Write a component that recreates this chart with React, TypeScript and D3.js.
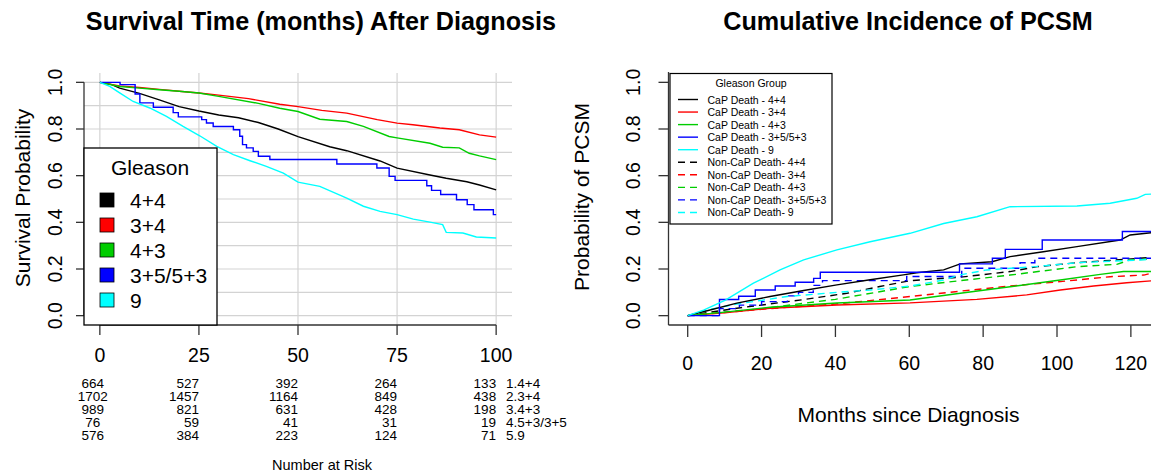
import React from "react";
import * as d3 from "d3";

const FONT = "'Liberation Sans', Arial, Helvetica, sans-serif";

// survival curves, [month, survival probability]
const surv44: [number, number][] = [[0, 1], [3, 0.99], [5, 0.975], [10, 0.953], [15, 0.925], [20, 0.896], [25, 0.877], [30, 0.86], [35, 0.848], [40, 0.828], [45, 0.8], [50, 0.767], [58, 0.724], [62.3, 0.707], [70.7, 0.663], [75, 0.632], [83.3, 0.603], [87.4, 0.589], [92.6, 0.574], [95.8, 0.56], [100, 0.539]];
const surv34: [number, number][] = [[0, 1], [5, 0.985], [10, 0.978], [15, 0.97], [20, 0.962], [25, 0.954], [30, 0.945], [37.5, 0.93], [45.4, 0.906], [50, 0.896], [56, 0.88], [62.3, 0.868], [70, 0.84], [75, 0.825], [79, 0.818], [85.8, 0.804], [90.7, 0.797], [95.8, 0.775], [100, 0.765]];
const surv43: [number, number][] = [[0, 1], [5, 0.982], [10, 0.975], [15, 0.968], [20, 0.962], [25, 0.954], [30, 0.94], [40, 0.91], [45.4, 0.889], [50, 0.875], [55.5, 0.842], [62.3, 0.832], [66.5, 0.811], [73, 0.768], [75, 0.762], [83.3, 0.739], [86.5, 0.722], [90.7, 0.719], [93.2, 0.696], [95.8, 0.685], [100, 0.669]];
const surv358: [number, number][] = [[0, 1], [5.1, 0.99], [8.9, 0.95], [10.1, 0.912], [13.5, 0.893], [18.5, 0.87], [19.8, 0.852], [25.7, 0.84], [26.9, 0.826], [28.6, 0.811], [33.7, 0.797], [35.3, 0.769], [36, 0.733], [37, 0.719], [38.7, 0.704], [40, 0.683], [42.9, 0.669], [59.8, 0.65], [69.9, 0.633], [73, 0.597], [74.5, 0.58], [82.5, 0.557], [83.7, 0.537], [86, 0.519], [90, 0.497], [92.7, 0.476], [94.4, 0.454], [99.3, 0.433], [100, 0.433]];
const surv9: [number, number][] = [[0, 1], [2.5, 0.983], [5.1, 0.954], [8.4, 0.918], [12.6, 0.89], [16.8, 0.854], [21, 0.811], [25.2, 0.771], [29.5, 0.726], [33.7, 0.69], [37.9, 0.664], [42, 0.64], [46.3, 0.611], [50, 0.572], [55.5, 0.554], [62.3, 0.504], [66.5, 0.469], [70.7, 0.447], [75, 0.433], [79.1, 0.414], [83.3, 0.401], [86.5, 0.39], [87.4, 0.357], [91.6, 0.354], [95, 0.337], [100, 0.333]];

const gleason = ["4+4", "3+4", "4+3", "3+5/5+3", "9"];
const colors = ["#000000", "#ff0000", "#00cd00", "#0000ff", "#00ffff"];
const survTicksX = [0, 25, 50, 75, 100];
const probTicks = [0, 0.2, 0.4, 0.6, 0.8, 1.0];
const gridY = [0, 0.1, 0.2, 0.3, 0.4, 0.5, 0.6, 0.7, 0.8, 0.9, 1.0];

// number at risk table
const riskAt44 = [664, 527, 392, 264, 133];
const riskAt34 = [1702, 1457, 1164, 849, 438];
const riskAt43 = [989, 821, 631, 428, 198];
const riskAt358 = [76, 59, 41, 31, 19];
const riskAt9 = [576, 384, 223, 124, 71];
const riskRowLabels = ["1.4+4", "2.3+4", "3.4+3", "4.5+3/3+5", "5.9"];

// cumulative incidence, [month, probability]
const cap44: [number, number][] = [[0, 0], [5, 0.02], [13.3, 0.054], [22.3, 0.082], [31.4, 0.108], [40.4, 0.132], [49.4, 0.154], [58.4, 0.175], [62, 0.184], [69.3, 0.196], [73.8, 0.222], [82.4, 0.231], [87.3, 0.253], [96.3, 0.274], [105.4, 0.296], [117.1, 0.324], [119.8, 0.346], [126, 0.356]];
const cap34: [number, number][] = [[0, 0], [10, 0.012], [22.3, 0.032], [40.4, 0.046], [60.2, 0.055], [78.3, 0.07], [91.8, 0.089], [100.9, 0.11], [109.9, 0.127], [118.9, 0.141], [126, 0.15]];
const cap43: [number, number][] = [[0, 0], [10, 0.015], [22.3, 0.036], [40.4, 0.054], [60.2, 0.067], [73.8, 0.096], [87.3, 0.124], [100.9, 0.153], [111.7, 0.177], [118, 0.189], [126, 0.189]];
const cap358: [number, number][] = [[0, 0], [8.6, 0.069], [13.8, 0.083], [18.3, 0.11], [23.7, 0.127], [29.1, 0.143], [34.1, 0.16], [35.9, 0.186], [73.6, 0.222], [82.5, 0.246], [86, 0.284], [96, 0.324], [117.7, 0.361], [126, 0.361]];
const cap9: [number, number][] = [[0, 0], [4.3, 0.024], [10.2, 0.067], [17.8, 0.139], [25, 0.196], [31.4, 0.239], [40.4, 0.282], [49.4, 0.317], [60.2, 0.353], [69.3, 0.395], [78.3, 0.424], [87.3, 0.467], [105.4, 0.47], [114.4, 0.482], [121.6, 0.503], [123.9, 0.52], [126, 0.521]];
const non44: [number, number][] = [[0, 0], [13.3, 0.032], [31.4, 0.069], [43.1, 0.096], [52, 0.125], [60.2, 0.15], [73.8, 0.165], [87.3, 0.189], [94.6, 0.21], [105.4, 0.227], [118.9, 0.242], [126, 0.25]];
const non34: [number, number][] = [[0, 0], [22, 0.03], [40, 0.05], [60.2, 0.082], [73.8, 0.105], [87.3, 0.127], [100.9, 0.146], [114.4, 0.167], [123.5, 0.174], [126, 0.184]];
const non43: [number, number][] = [[0, 0], [20, 0.03], [40, 0.07], [60.2, 0.125], [73.8, 0.15], [87.3, 0.174], [96.3, 0.192], [105.4, 0.21], [116.2, 0.22], [119.8, 0.239], [126, 0.243]];
const non358: [number, number][] = [[0, 0], [8.6, 0.03], [14, 0.045], [20, 0.06], [27, 0.085], [30, 0.1], [34, 0.13], [36.5, 0.15], [59.3, 0.168], [74.2, 0.203], [90, 0.227], [94, 0.246], [126, 0.246]];
const non9: [number, number][] = [[0, 0], [4, 0.02], [13.3, 0.05], [26.9, 0.082], [40.4, 0.1], [49.4, 0.11], [60.2, 0.127], [69.3, 0.153], [73.8, 0.175], [81, 0.196], [94, 0.21], [105.4, 0.227], [121.6, 0.238], [126, 0.243]];

const cifTicksX = [0, 20, 40, 60, 80, 100, 120];
const cifLegend = ["CaP Death - 4+4", "CaP Death - 3+4", "CaP Death - 4+3", "CaP Death - 3+5/5+3", "CaP Death - 9",
  "Non-CaP Death- 4+4", "Non-CaP Death- 3+4", "Non-CaP Death- 4+3", "Non-CaP Death- 3+5/5+3", "Non-CaP Death- 9"];

export default function App() {
  const survSeries = [surv44, surv34, surv43, surv358, surv9];
  const riskRows = [riskAt44, riskAt34, riskAt43, riskAt358, riskAt9];
  const capSeries = [cap44, cap34, cap43, cap358, cap9];
  const nonSeries = [non44, non34, non43, non358, non9];

  // left panel scales (R style 4% padding)
  const xL = d3.scaleLinear().domain([-4, 104]).range([84, 512]);
  const yL = d3.scaleLinear().domain([-0.04, 1.04]).range([325, 73]);
  // right panel
  const xR = d3.scaleLinear().domain([-5.2, 135.2]).range([668.5, 1187]);
  const yR = d3.scaleLinear().domain([-0.04, 1.04]).range([325, 73]);

  const lineL = (i: number) =>
    d3.line<[number, number]>().x(d => xL(d[0])).y(d => yL(d[1]))
      .curve(i === 3 ? d3.curveStepAfter : d3.curveLinear);
  const lineR = (i: number) =>
    d3.line<[number, number]>().x(d => xR(d[0])).y(d => yR(d[1]))
      .curve(i === 3 ? d3.curveStepAfter : d3.curveLinear);

  const axisCol = "#333";
  const dash = "7,5";

  return (
    <svg width={1151} height={475} style={{ position: "absolute", left: 0, top: 0, background: "#fff" }} fontFamily={FONT}>
      <defs>
        <clipPath id="clipR">
          <rect x={669} y={73} width={482} height={252} />
        </clipPath>
      </defs>

      {/* ---------------- left: survival ---------------- */}
      <text x={321} y={21} textAnchor="middle" dominantBaseline="central" fontSize={25.2} fontWeight="bold">
        Survival Time (months) After Diagnosis
      </text>

      {gridY.map(v => (
        <line key={"gy" + v} x1={84} x2={512} y1={yL(v)} y2={yL(v)} stroke="#d3d3d3" strokeWidth={1.2} />
      ))}
      {survTicksX.map(t => (
        <line key={"gx" + t} x1={xL(t)} x2={xL(t)} y1={73} y2={325} stroke="#d3d3d3" strokeWidth={1.2} />
      ))}

      {survSeries.map((s, i) => (
        <path key={"s" + i} d={lineL(i)(s) || ""} fill="none" stroke={colors[i]} strokeWidth={1.4} />
      ))}

      {/* y axis */}
      <line x1={84} x2={84} y1={yL(0)} y2={yL(1)} stroke={axisCol} strokeWidth={1.3} />
      {probTicks.map(t => (
        <g key={"ly" + t}>
          <line x1={76} x2={84} y1={yL(t)} y2={yL(t)} stroke={axisCol} strokeWidth={1.3} />
          <text transform={`translate(54.5,${yL(t)}) rotate(-90)`} textAnchor="middle" dominantBaseline="central" fontSize={19.5}>
            {t.toFixed(1)}
          </text>
        </g>
      ))}
      <text transform="translate(22.5,198) rotate(-90)" textAnchor="middle" dominantBaseline="central" fontSize={21}>
        Survival Probability
      </text>

      {/* x axis */}
      <line x1={xL(0)} x2={xL(100)} y1={325} y2={325} stroke={axisCol} strokeWidth={1.3} />
      {survTicksX.map(t => (
        <g key={"lx" + t}>
          <line x1={xL(t)} x2={xL(t)} y1={325} y2={335} stroke={axisCol} strokeWidth={1.3} />
          <text x={xL(t)} y={355} textAnchor="middle" dominantBaseline="central" fontSize={19.5}>{t}</text>
        </g>
      ))}

      {/* legend */}
      <rect x={84} y={148} width={133} height={177} fill="#fff" stroke="#000" strokeWidth={1.3} />
      <text x={150} y={167} textAnchor="middle" dominantBaseline="central" fontSize={21}>Gleason</text>
      {gleason.map((g, i) => (
        <g key={"lg" + i}>
          <rect x={100} y={193 + i * 25} width={14} height={14} fill={colors[i]} stroke="#000" strokeWidth={0.8} />
          <text x={130} y={200 + i * 25} dominantBaseline="central" fontSize={21}>{g}</text>
        </g>
      ))}

      {/* number at risk */}
      {riskRows.map((row, r) => (
        <g key={"rr" + r}>
          {row.map((n, c) => (
            <text key={c} x={c === 0 ? xL(survTicksX[c]) - 7 : xL(survTicksX[c])} y={383 + r * 13}
              textAnchor={c === 0 ? "middle" : "end"} dominantBaseline="central" fontSize={13.5}>{n}</text>
          ))}
          <text x={506} y={383 + r * 13} dominantBaseline="central" fontSize={13.5}>{riskRowLabels[r]}</text>
        </g>
      ))}
      <text x={322} y={465} textAnchor="middle" dominantBaseline="central" fontSize={14.5}>Number at Risk</text>

      {/* ---------------- right: cumulative incidence ---------------- */}
      <text x={908} y={21} textAnchor="middle" dominantBaseline="central" fontSize={25.2} fontWeight="bold">
        Cumulative Incidence of PCSM
      </text>

      <g clipPath="url(#clipR)">
        {nonSeries.map((s, i) => (
          <path key={"n" + i} d={lineR(i)(s) || ""} fill="none" stroke={colors[i]} strokeWidth={1.4} strokeDasharray={dash} />
        ))}
        {capSeries.map((s, i) => (
          <path key={"c" + i} d={lineR(i)(s) || ""} fill="none" stroke={colors[i]} strokeWidth={1.4} />
        ))}
      </g>

      {/* box (L shape) */}
      <line x1={668.5} x2={668.5} y1={72} y2={325} stroke={axisCol} strokeWidth={1.3} />
      <line x1={668.5} x2={1151} y1={325} y2={325} stroke={axisCol} strokeWidth={1.3} />
      {probTicks.map(t => (
        <g key={"ry" + t}>
          <line x1={658.5} x2={668.5} y1={yR(t)} y2={yR(t)} stroke={axisCol} strokeWidth={1.3} />
          <text transform={`translate(632.5,${yR(t)}) rotate(-90)`} textAnchor="middle" dominantBaseline="central" fontSize={19.5}>
            {t.toFixed(1)}
          </text>
        </g>
      ))}
      <text transform="translate(581.5,197) rotate(-90)" textAnchor="middle" dominantBaseline="central" fontSize={21}>
        Probability of PCSM
      </text>
      {cifTicksX.map(t => (
        <g key={"rx" + t}>
          <line x1={xR(t)} x2={xR(t)} y1={325} y2={337} stroke={axisCol} strokeWidth={1.3} />
          <text x={xR(t)} y={363} textAnchor="middle" dominantBaseline="central" fontSize={19.5}>{t}</text>
        </g>
      ))}
      <text x={908.5} y={414} textAnchor="middle" dominantBaseline="central" fontSize={21}>Months since Diagnosis</text>

      {/* legend */}
      <rect x={670} y={73.5} width={162} height={150.5} fill="#fff" stroke="#000" strokeWidth={1.2} />
      <text x={751} y={83} textAnchor="middle" dominantBaseline="central" fontSize={10.5}>Gleason Group</text>
      {cifLegend.map((lab, i) => (
        <g key={"rl" + i}>
          <line x1={678} x2={698} y1={99.5 + i * 12.55} y2={99.5 + i * 12.55} stroke={colors[i % 5]} strokeWidth={1.4}
            strokeDasharray={i >= 5 ? dash : undefined} />
          <text x={707.5} y={99.5 + i * 12.55} dominantBaseline="central" fontSize={10.5}>{lab}</text>
        </g>
      ))}
    </svg>
  );
}
